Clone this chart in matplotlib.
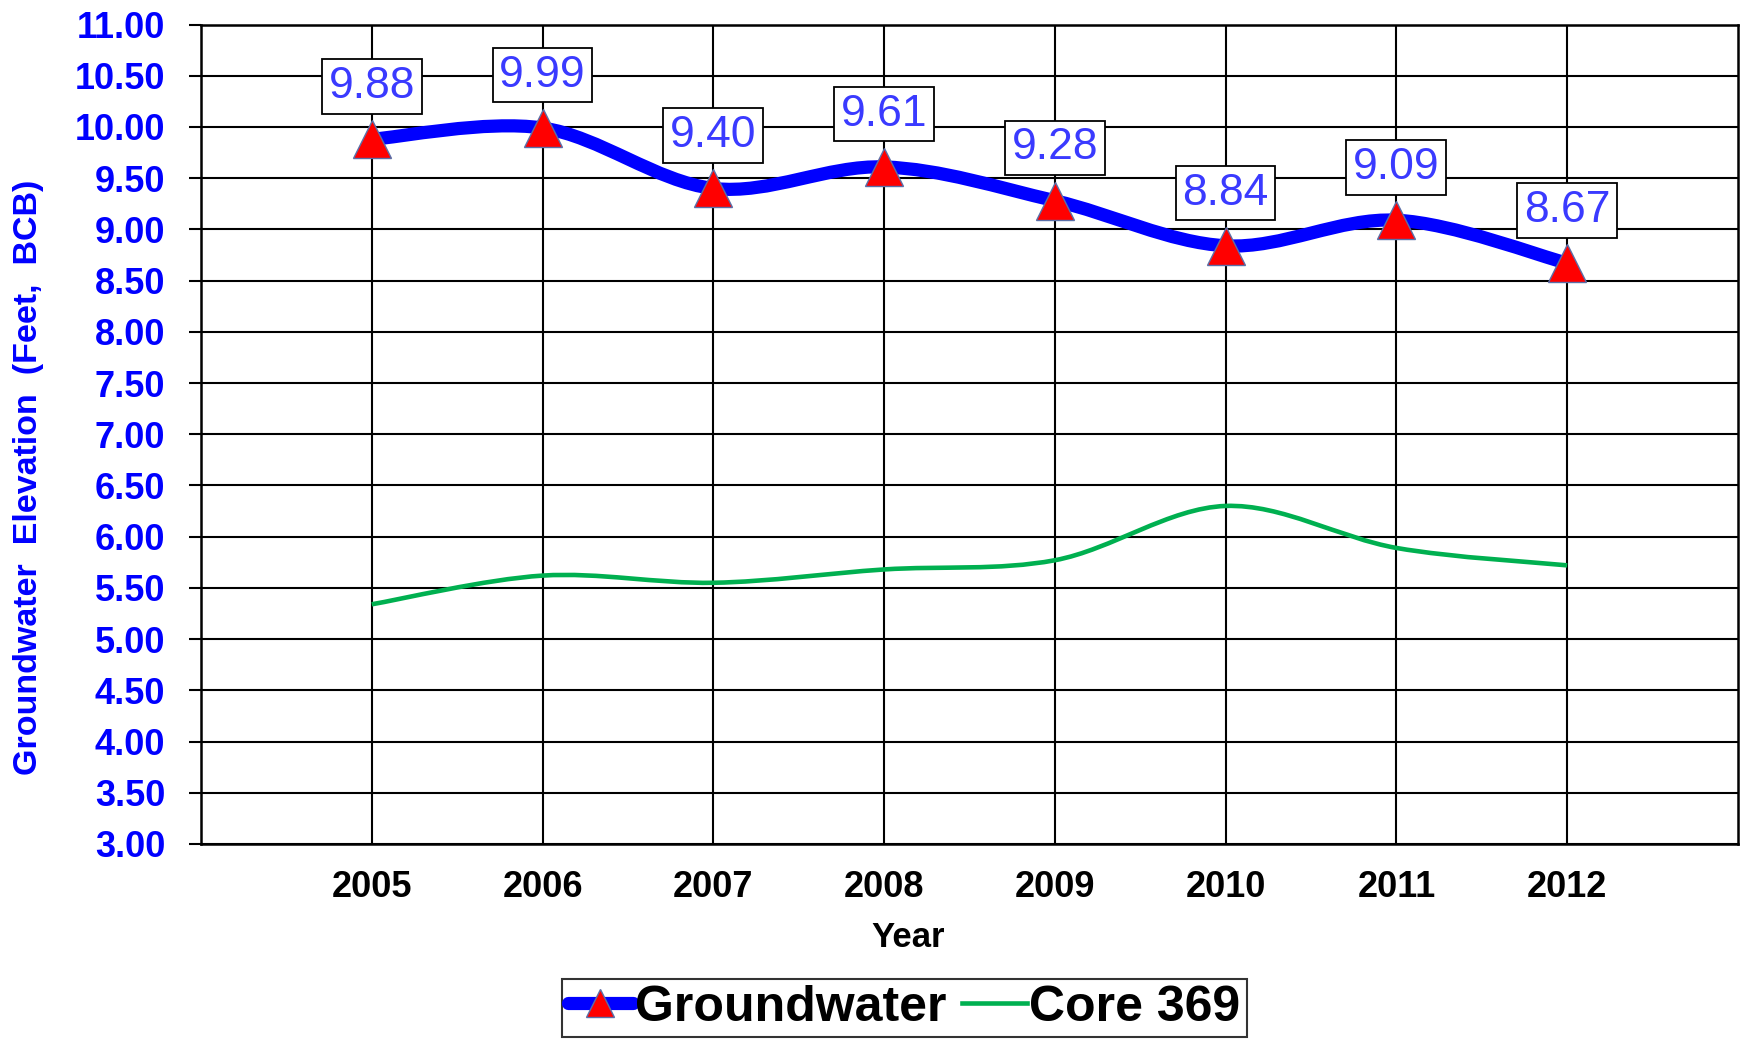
import matplotlib
matplotlib.use("Agg")
import matplotlib.pyplot as plt
from matplotlib.path import Path
from matplotlib.patches import PathPatch
from matplotlib.lines import Line2D
import numpy as np

# Groundwater vs. core elevation
years = ["2005", "2006", "2007", "2008", "2009", "2010", "2011", "2012"]
groundwater = [9.88, 9.99, 9.40, 9.61, 9.28, 8.84, 9.09, 8.67]
core_369 = [5.34, 5.62, 5.55, 5.68, 5.77, 6.30, 5.89, 5.72]
y_ticks = [3.0, 3.5, 4.0, 4.5, 5.0, 5.5, 6.0, 6.5, 7.0, 7.5, 8.0, 8.5, 9.0, 9.5, 10.0, 10.5, 11.0]

plt.rcParams['font.family'] = ['Liberation Sans', 'DejaVu Sans']

BLUE = '#0000FF'
LABEL_BLUE = '#3a3aff'
GREEN = '#00B050'


def smooth_path(xs, ys):
    # Excel-style smoothed line: Catmull-Rom segments written as cubic Beziers
    pts = list(zip(xs, ys))
    verts = [pts[0]]
    codes = [Path.MOVETO]
    for i in range(len(pts) - 1):
        p0 = pts[i - 1] if i > 0 else pts[i]
        p1 = pts[i]
        p2 = pts[i + 1]
        p3 = pts[i + 2] if i + 2 < len(pts) else pts[i + 1]
        c1 = (p1[0] + (p2[0] - p0[0]) / 6, p1[1] + (p2[1] - p0[1]) / 6)
        c2 = (p2[0] - (p3[0] - p1[0]) / 6, p2[1] - (p3[1] - p1[1]) / 6)
        verts += [c1, c2, p2]
        codes += [Path.CURVE4] * 3
    return Path(verts, codes)


fig = plt.figure(figsize=(17.49, 10.40), dpi=100)
ax = fig.add_axes([0.1149, 0.1885, 0.8788, 0.7879])

x = np.arange(len(years))

# green core line (thin) and blue groundwater line (thick)
ax.add_patch(PathPatch(smooth_path(x, core_369), facecolor='none', edgecolor=GREEN,
                       lw=3.3, zorder=3, capstyle='butt'))
ax.add_patch(PathPatch(smooth_path(x, groundwater), facecolor='none', edgecolor=BLUE,
                       lw=9.5, zorder=4, capstyle='round', joinstyle='round'))
ax.plot(x, groundwater, ls='none', marker='^', ms=28, mfc='red', mec='#5a6fa8',
        mew=1.0, zorder=5)

# data labels in boxes
for xi, v in zip(x, groundwater):
    ax.annotate(f"{v:.2f}", (xi, v), xytext=(0, 38), textcoords='offset points',
                ha='center', va='center', fontsize=32, color=LABEL_BLUE, zorder=6,
                bbox=dict(boxstyle='square,pad=0.15', fc='white', ec='black', lw=1.3))

ax.set_xlim(-1, len(years))
ax.set_ylim(y_ticks[0], y_ticks[-1])
ax.set_xticks(x, labels=years)
ax.set_yticks(y_ticks, labels=[f"{t:.2f}" for t in y_ticks])

ax.grid(True, color='black', lw=1.5, zorder=1)
ax.set_axisbelow(True)
for s in ax.spines.values():
    s.set_color('black')
    s.set_linewidth(1.8)

ax.tick_params(axis='x', length=0, pad=19, labelsize=26, labelcolor='black')
ax.tick_params(axis='y', length=8.6, width=1.5, pad=17, labelsize=26, labelcolor=BLUE)
for t in ax.get_xticklabels() + ax.get_yticklabels():
    t.set_fontweight('bold')

ax.set_xlabel("Year", fontsize=25, fontweight='bold', color='black')
ax.xaxis.label.set_va('center')
ax.xaxis.set_label_coords(0.46, -0.114)
ax.set_ylabel("Groundwater  Elevation  (Feet,  BCB)", fontsize=24.5, fontweight='bold', color=BLUE)
ax.yaxis.label.set_va('center')
ax.yaxis.set_label_coords(-0.112, 0.448)

handles = [
    Line2D([], [], color=BLUE, lw=9.5, solid_capstyle='round', marker='^', ms=20,
           mfc='red', mec='#5a6fa8', mew=1.0),
    Line2D([], [], color=GREEN, lw=3.3),
]
leg = fig.legend(handles, ["Groundwater", "Core 369"], loc='center',
                 bbox_to_anchor=(0.517, 0.031), ncol=2, frameon=True, fancybox=False,
                 prop={'size': 36, 'weight': 'bold'}, handlelength=1.3, handletextpad=0.05,
                 columnspacing=0.3, borderpad=0.12, borderaxespad=0)
leg.get_frame().set_edgecolor('black')
leg.get_frame().set_linewidth(1.5)

fig.savefig("out.png", dpi=100, facecolor='white')
